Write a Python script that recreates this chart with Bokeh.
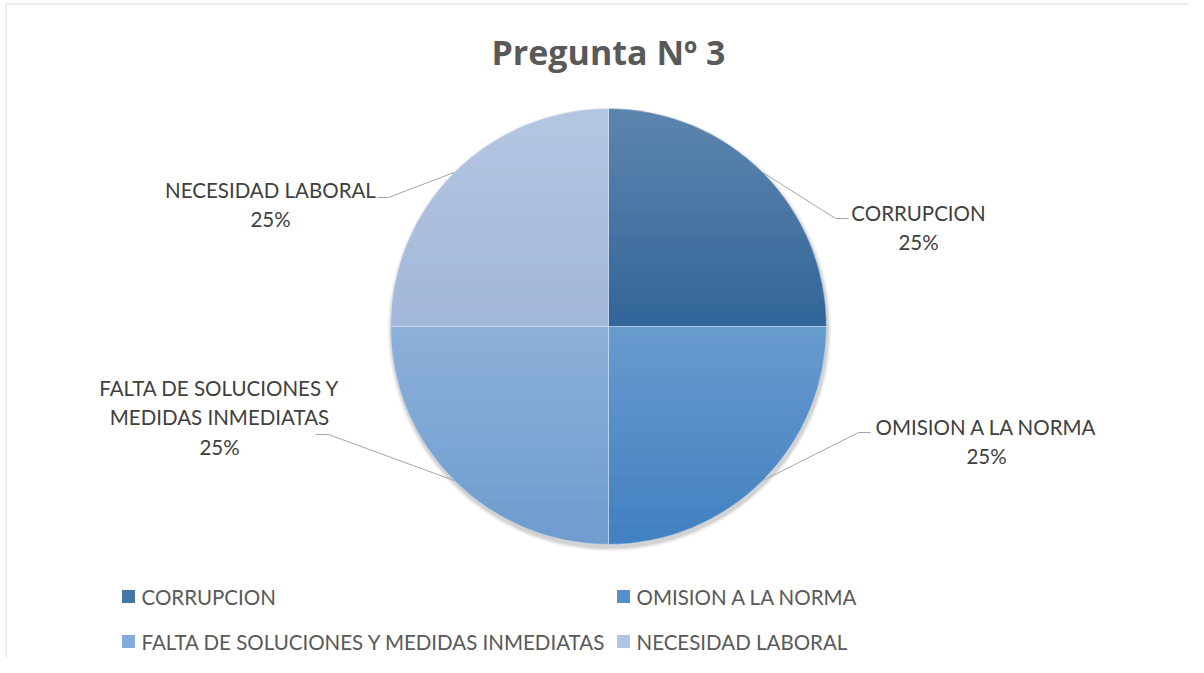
import math
from bokeh.plotting import figure
from bokeh.models import Range1d, ColumnDataSource
from bokeh.core.properties import value
from bokeh.embed import file_html
from bokeh.resources import INLINE

# ---- data ----
categories = ["CORRUPCION", "OMISION A LA NORMA",
              "FALTA DE SOLUCIONES Y MEDIDAS INMEDIATAS", "NECESIDAD LABORAL"]
label_lines = [["CORRUPCION"], ["OMISION A LA NORMA"],
               ["FALTA DE SOLUCIONES Y", "MEDIDAS INMEDIATAS"], ["NECESIDAD LABORAL"]]
values = [25, 25, 25, 25]
title_text = "Pregunta Nº 3"

# ---- style ----
base_colors = ["#33669a", "#4281c2", "#6f9dd0", "#a2b8da"]
legend_colors = ["#4675a8", "#5590cb", "#83aadb", "#b0c4e3"]
FONT = "Lato"
W, H = 1188, 657
IMG_H = 673


def px(x):
    return x


def py(y):
    return IMG_H - y


cx, cy, R = 608, 326, 218

p = figure(width=W, height=H, output_backend="svg", toolbar_location=None,
           x_range=Range1d(0, W), y_range=Range1d(IMG_H - H, IMG_H),
           x_axis_type=None, y_axis_type=None, min_border=0,
           background_fill_color="white", border_fill_color="white")
p.grid.visible = False
p.outline_line_color = None

# frame border (left/top)
p.segment(x0=[px(5.5), px(5.5)], y0=[py(3.5), py(3.5)], x1=[px(5.5), px(W)], y1=[py(H), py(3.5)],
          line_color="#d9d9d9", line_width=1)

# soft shadow
for k, a in [(4, 0.03), (3, 0.04), (2, 0.05), (1, 0.06)]:
    p.circle(x=[px(cx + 1)], y=[py(cy + 3)], radius=R + k, fill_color="black",
             fill_alpha=a, line_color=None)

# wedges (clockwise from top)
total = sum(values)
starts, ends, mids = [], [], []
ang = math.pi / 2
for v in values:
    sweep = 2 * math.pi * v / total
    starts.append(ang)
    ends.append(ang - sweep)
    mids.append(ang - sweep / 2)
    ang -= sweep

src = ColumnDataSource(dict(start=starts, end=ends, color=base_colors))
p.wedge(x=px(cx), y=py(cy), radius=R, start_angle="start", end_angle="end",
        direction="clock", fill_color="color", line_color="white", line_alpha=0.35,
        line_width=1, source=src)

# vertical gradient shading for each half of the pie
A = 0.22
gx0, gx1, gy, ga = [], [], [], []
for i in range(R):
    h = i + 0.5
    w = math.sqrt(max(R * R - h * h, 0))
    gx0.append(cx - w); gx1.append(cx + w); gy.append(py(cy - h)); ga.append(A * h / R)
    gx0.append(cx - w); gx1.append(cx + w); gy.append(py(cy + h)); ga.append(A * (1 - h / R))
p.segment(x0=gx0, y0=gy, x1=gx1, y1=gy, line_color="white", line_alpha=ga, line_width=1.1)

# leader lines and data labels
elbows = [(835, 218, 848), (858, 432, 870), (328, 434, 315), (388, 197, 377)]
label_pos = [(918, 212), (986, 426), (219, 387), (270, 189)]
line_gap = 29.5
for i, v in enumerate(values):
    sx = cx + R * math.cos(mids[i])
    sy = cy - R * math.sin(mids[i])
    ex, ey, ee = elbows[i]
    p.line(x=[px(sx), px(ex), px(ee)], y=[py(sy), py(ey), py(ey)],
           line_color="#a6a6a6", line_width=1)
    lines = label_lines[i] + [f"{v / total * 100:.0f}%"]
    lx, ly = label_pos[i]
    p.text(x=[px(lx)] * len(lines), y=[py(ly + j * line_gap) for j in range(len(lines))],
           text=lines, text_align="center", text_baseline="middle",
           text_font=value(FONT), text_font_size="20.5px", text_color="#404040")

# title
p.text(x=[px(608)], y=[py(51)], text=[title_text], text_align="center",
       text_baseline="middle", text_font=value("Open Sans"), text_font_size="34px",
       text_font_style="bold", text_color="#595959")

# legend
leg_sq = [(128, 596), (623, 596), (128, 641), (623, 641)]
leg_tx = [(141, 596), (636, 596), (141, 641), (636, 641)]
p.scatter(x=[px(a) for a, b in leg_sq], y=[py(b) for a, b in leg_sq], marker="square",
          size=13, fill_color=legend_colors, line_color=None)
p.text(x=[px(a) for a, b in leg_tx], y=[py(b) for a, b in leg_tx], text=categories,
       text_align="left", text_baseline="middle", text_font=value(FONT),
       text_font_size="20.5px", text_color="#595959")

open("out.html", "w").write(file_html(p, INLINE))
